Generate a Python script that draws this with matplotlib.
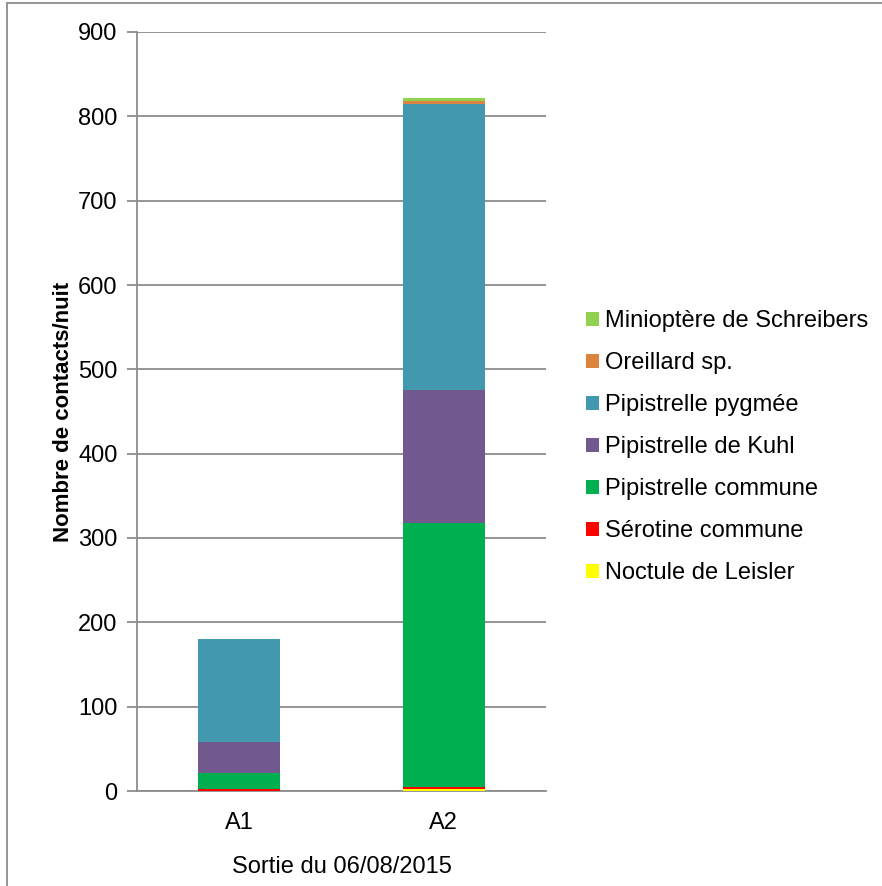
import matplotlib
matplotlib.use("Agg")
import matplotlib.pyplot as plt
from matplotlib.patches import Patch, Rectangle

plt.rcParams['font.family'] = ['Liberation Sans', 'DejaVu Sans']

# data
sites = ['A1', 'A2']
species = ['Noctule de Leisler', 'Sérotine commune', 'Pipistrelle commune',
           'Pipistrelle de Kuhl', 'Pipistrelle pygmée', 'Oreillard sp.',
           'Minioptère de Schreibers']
counts = {
    'Noctule de Leisler': [0, 2],
    'Sérotine commune': [2, 3],
    'Pipistrelle commune': [19, 313],
    'Pipistrelle de Kuhl': [37, 157],
    'Pipistrelle pygmée': [122, 340],
    'Oreillard sp.': [0, 3],
    'Minioptère de Schreibers': [0, 4],
}
colours = ['#FFFF00', '#FF0000', '#00B050', '#71588F', '#4198AF', '#DB843D', '#92D050']

W, H = 882, 886
FS = 17
fig = plt.figure(figsize=(W / 100, H / 100), dpi=100)
ax = fig.add_axes([137 / W, 1 - 791 / H, (546 - 137) / W, (791 - 32) / H])

# outer chart border
fig.patches.append(Rectangle((7 / W, -0.1), 1.2, (1 - 2.5 / H) + 0.1, transform=fig.transFigure,
                             fill=False, edgecolor='#8c8c8c', linewidth=1.3))

x = list(range(len(sites)))
bottom = [0] * len(sites)
handles = []
for sp, col in zip(species, colours):
    vals = counts[sp]
    ax.bar(x, vals, width=0.4, bottom=bottom, color=col, zorder=3)
    bottom = [b + v for b, v in zip(bottom, vals)]
    handles.append(Patch(facecolor=col, label=sp))

ax.set_xlim(-0.5, 1.5)
ax.set_ylim(0, 900)
ax.set_yticks(range(0, 901, 100))
ax.set_xticks(x)
ax.set_xticklabels(sites)
ax.yaxis.grid(True, color='#8c8c8c', linewidth=1.3, zorder=0)
for s in ['top', 'right']:
    ax.spines[s].set_visible(False)
for s in ['left', 'bottom']:
    ax.spines[s].set_color('#8c8c8c')
    ax.spines[s].set_linewidth(1.3)
ax.tick_params(axis='y', length=7, width=1.3, color='#8c8c8c', labelsize=FS, pad=7)
ax.tick_params(axis='x', length=0, labelsize=FS, pad=15)
ax.set_ylabel('Nombre de contacts/nuit', fontsize=16, fontweight='bold', labelpad=3)
ax.set_xlabel('Sortie du 06/08/2015', fontsize=FS, labelpad=16)

fig.legend(handles=handles[::-1], loc='upper left', bbox_to_anchor=(586 / W, 1 - 310 / H),
           frameon=False, fontsize=FS, handlelength=0.55, handleheight=0.55,
           handletextpad=0.25, labelspacing=0.85, borderaxespad=0, borderpad=0)

fig.savefig('out.png', dpi=100)
